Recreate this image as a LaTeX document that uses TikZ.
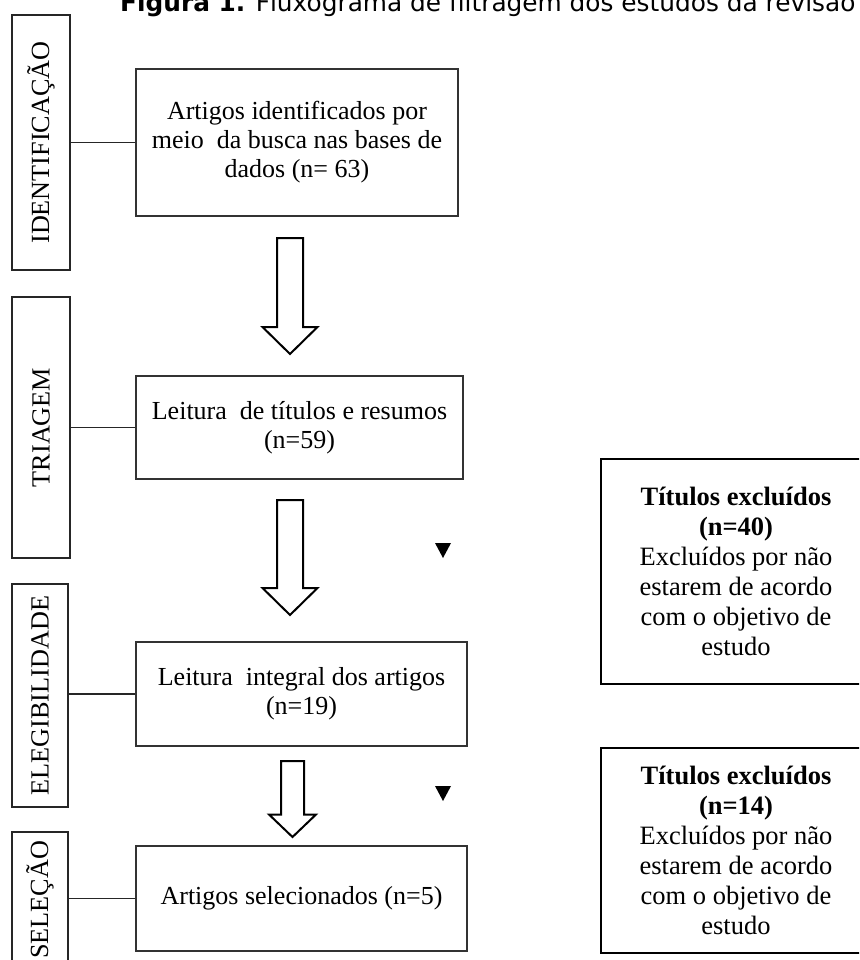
\documentclass[tikz,border=0pt]{standalone}
\usepackage{fontspec}
\setmainfont{Liberation Serif}
\newfontfamily\titlefont{DejaVu Sans}
\begin{document}
\begin{tikzpicture}[x=1pt,y=-1pt,
  phasebox/.style={draw=black!85, line width=1.4pt, inner sep=0pt,
    font=\fontsize{26.2}{29}\selectfont},
  stagebox/.style={draw=black!80, line width=1.4pt, inner sep=0pt, align=center,
    font=\fontsize{26}{29}\selectfont},
  exclbox/.style={draw=black, line width=2.2pt, inner sep=0pt, align=center,
    font=\fontsize{26.5}{30}\selectfont},
  link/.style={draw=black!85, line width=1.4pt},
  hollow/.style={draw=black, line width=2pt, fill=white, line join=miter},
  pointer/.style={fill=black},
]
\useasboundingbox (0,0) rectangle (859,960);
\clip (0,0) rectangle (859,960);

% caption
\node[anchor=base west, inner sep=0pt, font=\titlefont\fontsize{24.8}{28}\selectfont]
  (caption) at (120,12) {\textbf{Figura 1.} Fluxograma de filtragem dos estudos da revisão};

% phase labels on the left
\node[phasebox, minimum width=58, minimum height=255] (ident) at (41,142.5)
  {\rotatebox{90}{IDENTIFICAÇÃO}};
\node[phasebox, minimum width=58, minimum height=261] (triag) at (41,427.5)
  {\rotatebox{90}{TRIAGEM}};
\node[phasebox, minimum width=56, minimum height=223] (eleg) at (40,695.5)
  {\rotatebox{90}{ELEGIBILIDADE}};
\node[phasebox, minimum width=56, minimum height=136] (selec) at (40,900)
  {\rotatebox{90}{SELEÇÃO}};

% stage boxes
\node[stagebox, minimum width=322, minimum height=147] (s1) at (297,142.5)
  {Artigos identificados por\\meio\ \ da busca nas bases de\\dados (n= 63)};
\node[stagebox, minimum width=327, minimum height=103] (s2) at (299.5,427.5)
  {Leitura\ \ de títulos e resumos\\(n=59)};
\node[stagebox, minimum width=331, minimum height=104] (s3) at (301.5,694)
  {Leitura\ \ integral dos artigos\\(n=19)};
\node[stagebox, minimum width=331, minimum height=105] (s4) at (301.5,898.5)
  {Artigos selecionados (n=5)};

% excluded records
\node[exclbox, minimum width=270, minimum height=225] (e1) at (736,571.5)
  {\textbf{Títulos excluídos}\\\textbf{(n=40)}\\Excluídos por não\\estarem de acordo\\com o objetivo de\\estudo};
\node[exclbox, minimum width=270, minimum height=205] (e2) at (736,850.5)
  {\textbf{Títulos excluídos}\\\textbf{(n=14)}\\Excluídos por não\\estarem de acordo\\com o objetivo de\\estudo};

% links between phase labels and stages
\draw[link] (s1.west) -- (s1.west -| ident.east);
\draw[link] (s2.west) -- (s2.west -| triag.east);
\draw[link] (s3.west) -- (s3.west -| eleg.east);
\draw[link] (s4.west) -- (s4.west -| selec.east);

% hollow block arrows: centre x, top, head base, tip, half shaft, half head
\newcommand\blockdown[6]{%
  \draw[hollow] ({#1-#5},#2) -- ({#1+#5},#2) -- ({#1+#5},#3) -- ({#1+#6},#3)
    -- (#1,#4) -- ({#1-#6},#3) -- ({#1-#5},#3) -- cycle;}
\blockdown{290}{238}{327}{354}{13}{27.5}
\blockdown{290}{500}{588}{615}{13}{27.5}
\blockdown{292.5}{761}{814.5}{837}{11.5}{23.5}

% small pointers
\coordinate (p1) at (443,543);
\coordinate (p2) at (443,786);
\fill[pointer] (p1) ++(-8,0) -- ++(16,0) -- ++(-8,15) -- cycle;
\fill[pointer] (p2) ++(-8,0) -- ++(16,0) -- ++(-8,15) -- cycle;
\end{tikzpicture}
\end{document}
